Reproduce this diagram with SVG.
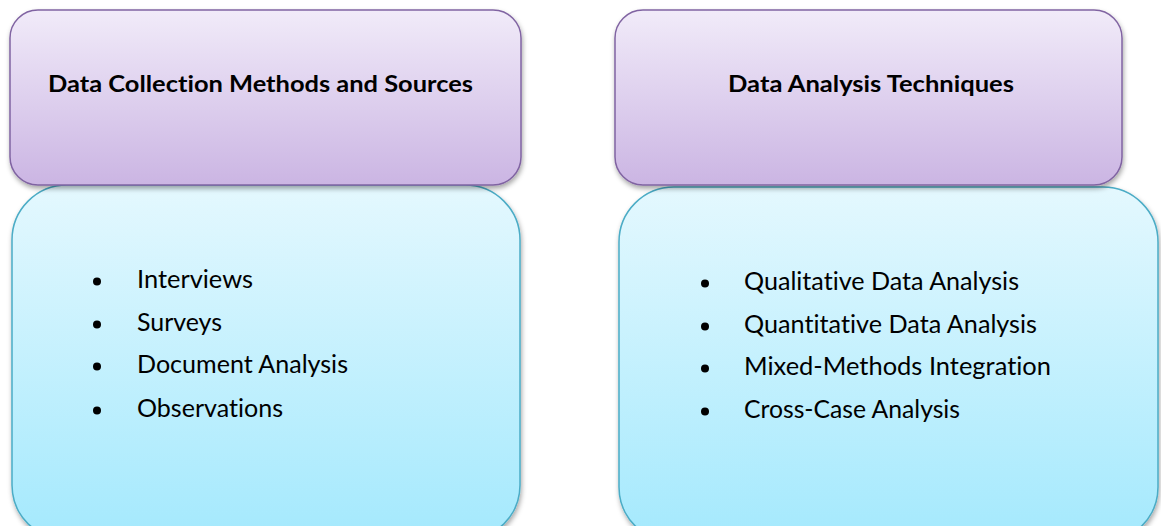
<svg xmlns="http://www.w3.org/2000/svg" width="1161" height="526" viewBox="0 0 1161 526">
<style>
.hdr{fill:url(#gP);stroke:#8064a2;stroke-width:1.5;filter:url(#sh)}
.body{fill:url(#gC);stroke:#4bacc6;stroke-width:1.5;filter:url(#sh)}
.ht{font-family:Lato,"Liberation Sans",sans-serif;font-weight:bold;font-size:22.5px;fill:#000;font-variant-ligatures:none}
.it{font-family:Lato,"Liberation Sans",sans-serif;font-size:24.5px;fill:#000;font-variant-ligatures:none}
.bl{fill:#000}
</style>
<defs>
<linearGradient id="gP" x1="0" y1="0" x2="0" y2="1">
<stop offset="0" stop-color="#f1ebf9"/>
<stop offset="1" stop-color="#cbb5e3"/>
</linearGradient>
<linearGradient id="gC" x1="0" y1="0" x2="0" y2="1">
<stop offset="0" stop-color="#e4f8fe"/>
<stop offset="1" stop-color="#a4e9fd"/>
</linearGradient>
<filter id="sh" x="-5%" y="-5%" width="112%" height="115%">
<feDropShadow dx="1" dy="3" stdDeviation="2.5" flood-color="#000" flood-opacity="0.35"/>
</filter>
</defs>
<rect width="1161" height="526" fill="#fff"/>
<g id="body-left">
<rect class="body" x="12" y="185" width="508" height="355" rx="55" ry="55"/>
<circle class="bl" cx="97" cy="281.5" r="4"/>
<circle class="bl" cx="97" cy="324.5" r="4"/>
<circle class="bl" cx="97" cy="366.5" r="4"/>
<circle class="bl" cx="97" cy="410.5" r="4"/>
<text class="it" x="137" y="288" textLength="116" lengthAdjust="spacingAndGlyphs">Interviews</text>
<text class="it" x="137" y="331" textLength="85" lengthAdjust="spacingAndGlyphs">Surveys</text>
<text class="it" x="137" y="373" textLength="211" lengthAdjust="spacingAndGlyphs">Document Analysis</text>
<text class="it" x="137" y="417" textLength="146" lengthAdjust="spacingAndGlyphs">Observations</text>
</g>
<g id="body-right">
<rect class="body" x="619" y="187" width="539" height="355" rx="55" ry="55"/>
<circle class="bl" cx="705" cy="283.5" r="4"/>
<circle class="bl" cx="705" cy="326.5" r="4"/>
<circle class="bl" cx="705" cy="368.5" r="4"/>
<circle class="bl" cx="705" cy="411.5" r="4"/>
<text class="it" x="744" y="290" textLength="275" lengthAdjust="spacingAndGlyphs">Qualitative Data Analysis</text>
<text class="it" x="744" y="333" textLength="293" lengthAdjust="spacingAndGlyphs">Quantitative Data Analysis</text>
<text class="it" x="744" y="375" textLength="307" lengthAdjust="spacingAndGlyphs">Mixed-Methods Integration</text>
<text class="it" x="744" y="418" textLength="216" lengthAdjust="spacingAndGlyphs">Cross-Case Analysis</text>
</g>
<g id="header-left">
<rect class="hdr" x="10" y="10" width="511" height="175" rx="28" ry="28"/>
<text class="ht" x="48" y="92" textLength="425" lengthAdjust="spacingAndGlyphs">Data Collection Methods and Sources</text>
</g>
<g id="header-right">
<rect class="hdr" x="615" y="10" width="507" height="175" rx="28" ry="28"/>
<text class="ht" x="728" y="92" textLength="286" lengthAdjust="spacingAndGlyphs">Data Analysis Techniques</text>
</g>
<g id="connectors"></g>
</svg>
